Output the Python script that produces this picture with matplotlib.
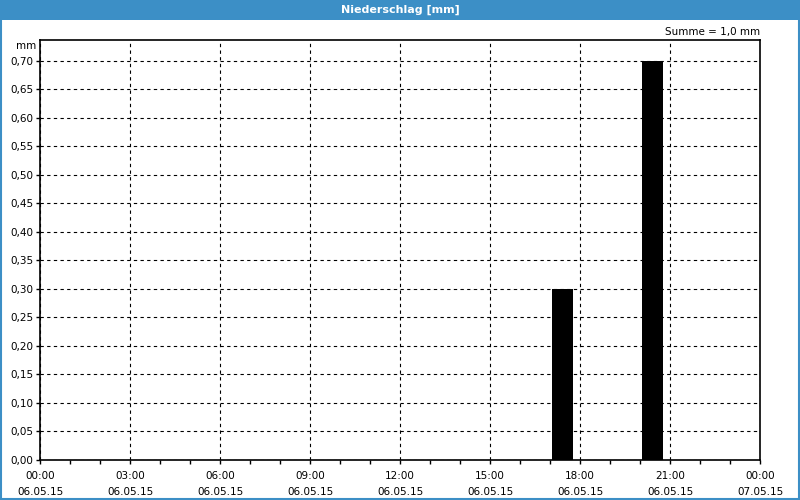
import matplotlib.pyplot as plt
from matplotlib.patches import Rectangle
from matplotlib.ticker import MultipleLocator

# Niederschlag je Stunde (Stundenmitte in h seit 06.05.15 00:00)
bar_hours = [17.43, 20.43]
bar_values = [0.30, 0.70]
tick_hours = [0, 3, 6, 9, 12, 15, 18, 21, 24]
tick_labels = ["00:00\n06.05.15", "03:00\n06.05.15", "06:00\n06.05.15",
               "09:00\n06.05.15", "12:00\n06.05.15", "15:00\n06.05.15",
               "18:00\n06.05.15", "21:00\n06.05.15", "00:00\n07.05.15"]
y_ticks = [i * 0.05 for i in range(15)]

blue = "#3c8fc6"
plt.rcParams['font.family'] = ['DejaVu Sans']

fig = plt.figure(figsize=(8, 5), dpi=100)
fig.patch.set_facecolor("white")

# title bar and frame
fig.patches.append(Rectangle((0, 1 - 20 / 500), 1, 20 / 500, transform=fig.transFigure,
                             facecolor=blue, edgecolor="none", zorder=0))
fig.patches.append(Rectangle((0.001, 0.002), 0.998, 0.996, transform=fig.transFigure,
                             facecolor="none", edgecolor=blue, linewidth=1.5, zorder=0))
fig.text(0.5, 1 - 10 / 500, "Niederschlag [mm]", color="white", ha="center", va="center",
         fontsize=8, fontweight="bold")

ax = fig.add_axes([40 / 800, 40 / 500, 720 / 800, 420 / 500])
ax.bar(bar_hours, bar_values, width=0.7, color="black", zorder=3)

ax.set_xlim(0, 24)
ax.set_ylim(0, 0.7368)
ax.set_xticks(tick_hours)
ax.set_xticklabels(tick_labels, fontsize=7.5, linespacing=1.75)
ax.xaxis.set_minor_locator(MultipleLocator(1))
ax.set_yticks(y_ticks)
ax.set_yticklabels([f"{v:.2f}".replace(".", ",") for v in y_ticks], fontsize=7.5)

ax.tick_params(axis="both", which="major", length=3, width=1, direction="out", pad=2)
ax.tick_params(axis="x", which="major", pad=5)
ax.tick_params(axis="x", which="minor", length=3, width=1, direction="out")
ax.grid(True, which="major", color="black", linestyle=(0, (3, 3)), linewidth=0.8)
for sp in ax.spines.values():
    sp.set_linewidth(1.2)
    sp.set_color("black")

fig.text(36 / 800, 1 - 46 / 500, "mm", ha="right", va="center", fontsize=7.5)
fig.text(760 / 800, 1 - 32 / 500, "Summe = 1,0 mm", ha="right", va="center", fontsize=7.5)

fig.savefig("out.png", dpi=100)
